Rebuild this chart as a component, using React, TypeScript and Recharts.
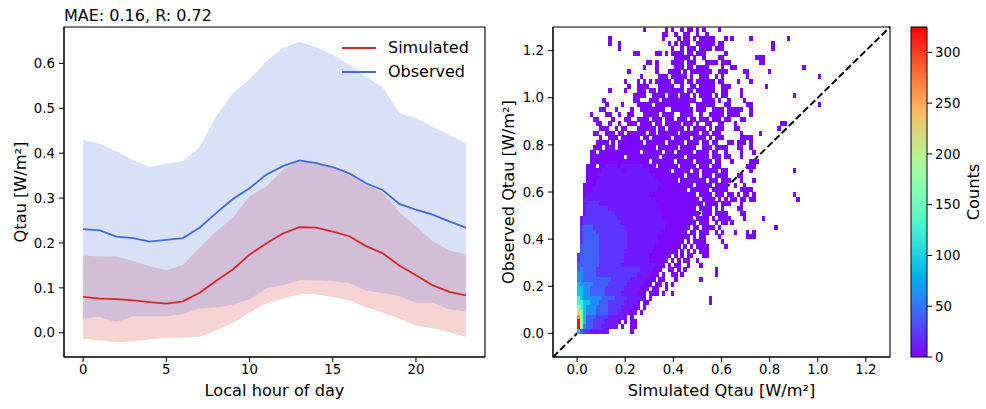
import React from 'react'
import {
  ComposedChart, ScatterChart, Scatter, Area, Line, XAxis, YAxis,
  ReferenceArea, ReferenceLine, Legend,
} from 'recharts'

const FONT = '"DejaVu Sans", Verdana, sans-serif'
const RED = '#d62728'
const BLUE = '#4169e1'

// ---- left panel: diurnal profile ----
const HOURS = [0, 1, 2, 3, 4, 5, 6, 7, 8, 9, 10, 11, 12, 13, 14, 15, 16, 17, 18, 19, 20, 21, 22, 23]
const SIM_MEAN = [0.080, 0.076, 0.075, 0.072, 0.068, 0.065, 0.070, 0.089, 0.116, 0.141, 0.174, 0.199, 0.221, 0.235, 0.234, 0.225, 0.215, 0.193, 0.177, 0.150, 0.128, 0.106, 0.091, 0.083]
const SIM_LO = [-0.013, -0.017, -0.021, -0.019, -0.015, -0.011, -0.011, -0.009, 0.005, 0.022, 0.045, 0.065, 0.076, 0.086, 0.086, 0.079, 0.072, 0.057, 0.045, 0.032, 0.016, 0.010, 0.001, -0.009]
const SIM_HI = [0.172, 0.170, 0.170, 0.160, 0.148, 0.139, 0.151, 0.189, 0.226, 0.256, 0.304, 0.326, 0.362, 0.384, 0.381, 0.367, 0.351, 0.330, 0.312, 0.269, 0.237, 0.204, 0.184, 0.174]
const OBS_MEAN = [0.231, 0.228, 0.214, 0.211, 0.203, 0.207, 0.211, 0.234, 0.267, 0.298, 0.322, 0.352, 0.371, 0.384, 0.378, 0.369, 0.355, 0.333, 0.318, 0.287, 0.274, 0.263, 0.248, 0.234]
const OBS_LO = [0.032, 0.035, 0.024, 0.037, 0.037, 0.037, 0.041, 0.054, 0.056, 0.063, 0.074, 0.099, 0.105, 0.117, 0.117, 0.115, 0.111, 0.094, 0.088, 0.082, 0.067, 0.067, 0.052, 0.048]
const OBS_HI = [0.430, 0.421, 0.404, 0.384, 0.369, 0.377, 0.382, 0.413, 0.482, 0.534, 0.564, 0.604, 0.634, 0.648, 0.636, 0.619, 0.597, 0.570, 0.547, 0.489, 0.478, 0.458, 0.441, 0.421]
const HOUR_TICKS = [0, 5, 10, 15, 20]
const Q_TICKS = [0, 0.1, 0.2, 0.3, 0.4, 0.5, 0.6]
const LEGEND_ITEMS = [
  { name: 'Simulated', color: RED },
  { name: 'Observed', color: BLUE },
]
const TITLE = 'MAE: 0.16, R: 0.72'

// ---- right panel: 2d histogram (bins of 0.013 x 0.02) ----
// one string per row of bins, top row (y≈1.28) first, bottom row (y≈0) last
// tokens: "col" or "colA-colB", optional ":level"
const BIN_X = 0.013
const BIN_Y = 0.02
const LEVEL_COUNTS: Record<string, number> = {
  '1': 3, '2': 10, '3': 22, '4': 40, '5': 60, '6': 90, '7': 130, '8': 180, '9': 220, 'A': 265, 'B': 320,
}
const HIST_ROWS = [
  '21 28 30 33 35-36 38 40 45',
  '27-28 31 34-35 38 41',
  '10 27 32 34-35 37 39-43 47 49 55 67',
  '10 13 29 31 33-35 38-43 45-46 62',
  '13 30 33 35-37 39-42 44-46 62',
  '18-19 25-26 28 30-33 35-36 38-40 47',
  '31-35 37 40 45-46 57-59',
  '22-23 25 30-33 35-37 41-44 46-48 58-59',
  '21 25 31-33 35-36 38-41 46 49-50 72',
  '16 25 29-32 34 36-42 45-47 53-54 61',
  '20 26-28 30-34 36 39-41 44 46 54 77',
  '15 19 21 23 25-29 31-33 35-36 38-43 45-46 51 55',
  '16 19-22 26-30 33 36-37 39-43 46-48 60',
  '10 15 19-21 23-24 26-33 35-36 38-43 46-47 52',
  '18-21 24-27 29-31 33-35 37 39-42 44 46-47 52 69',
  '8 18-19 23-25 27-37 40-43 45 48 53',
  '9 14 19-23 25-35 38-43 47-48 54-55 77',
  '7-8 12 17 20-27 30-36 38-40 43-46 48-52 55',
  '4 9-10 13 16-17 21-25 27-30 33-36 39 42-46 48-51 55',
  '5-6 11 15-16 19-22 24-26 28-30 32-34 36-37 39-41 43-45 47-48 52-53',
  '6-7 10 13 16-18 20-23 25-26 28-32 34-36 38 41-42 45-46 50 65-66',
  '7-9 12 14-15 19-24 26-27 29-33 35 37-40 42 44-46 50-51 64',
  '5-6 9-11 13-14 16-21 23-24 26-31 33-38 40-41 43-45 52 58',
  '7 10-12 14-19 21-22 24-29 31-35 37-40 42 44-46 52-55',
  '6-9 11 13-20 22-27 29-33 35-38 40-41 43-44 48-49 51-53 55',
  '5-7 9-11 13-24 26-31 33-37 40-42 44-47 51-52 55',
  '4-5 7-19 21-26 28-30 32-36 38-41 43-44 47 52 56',
  '4-14 16-25 27-33 35-41 43-45 47-48 52',
  '4-22 24-30 32-36 38-42 44-45 49 55-57',
  '3-5 7-8 9-12:2 13 14-20:2 21-24 26-31 33-37 39-41 43-45 54-56',
  '3-7 8-13:2 14-15 16-22:2 23-29 31-35 37-38 40-44 46-47 55 69',
  '3-6 7-24:2 25-33 35-38 40-42 44-47 51-52',
  '3-5 6-25:2 26-31 33-40 42-44 46-48 52 56',
  '2-5 6-26:2 27-36 38-42 44-47 50 53',
  '2-4 5-25:2 26-34 36-41 43-47 52-55',
  '2 3-22:2 23-37 39-42 44-46 48-49 51 53-54 56 69',
  '2:2 3-24:2 25-38 40-43 45 47 49-50 52-53 55-56 70',
  '2:2 3-6:3 7-25:2 26-39 41-44 46-48 52',
  '2:2 3-9:3 10-25:2 26-37 39-42 44 46 51-52',
  '2:2 3-11:3 12-26:2 27-38 40-42 44-47 52-53',
  '1:2 2-12:3 13-26:2 27-36 38-41 43 45-48 53 59',
  '1:2 2-13:3 14-27:2 28-37 39-41 44 46-47 49',
  '1:3 2-4:4 5-14:3 15-27:2 28-35 37-38 40-43 45 63',
  '1:3 2-5:4 6-15:3 16-26:2 27-34 36-37 39-41 44 46 50 54 56',
  '1:3 2-6:4 7-15:3 16-25:2 26-35 37 39-40 45 54-56',
  '1:3 2-6:4 7-15:3 16-25:2 26-33 35 37-40 46',
  '1:4 2-6:4 7-15:3 16-24:2 25-32 34 36 38-41 47',
  '1:4 2-6:4 7-14:3 15-23:2 24-31 33 35 37 39-41',
  '0:3 1:4 2-6:4 7-14:3 15-22:2 23-29 31 33 35-36 40-41',
  '0:3 1:4 2-6:4 7-14:3 15-22:2 23-28 30 32 34-35 38',
  '0:4 1:4 2-6:4 7-13:3 14-24:2 25-27 29 31-32 35 39',
  '0:4 1:5 2-5:4 6-19:3 20-23:2 24-26 29-30 32 34 44',
  '0:5 1:5 2-5:4 6-18:3 19-22:2 23-25 27 30-31 33 44',
  '0:5 1:5 2-10:4 11-16:3 17-21:2 22-24 26-27 31 39',
  '0:6 1:5 2-4:5 5-9:4 10-15:3 16-20:2 21-23 25-26 28 30',
  '0:6 1:6 2-3:5 4-8:4 9-14:3 15-19:2 20-22 24-25 28',
  '0:6 1:6 2-3:5 4-8:4 9-13:3 14-18:2 19-21 23-25 27 30',
  '0:7 1:6 2-7:5 8-11:4 12-15:3 16-20:2 21 23 42',
  '0:7 1:7 2-3:6 4-6:5 7-9:4 10-14:3 15-18:2 19 21-22 42',
  '0:8 1:7 2:6 3-5:5 6-9:4 10-13:3 14-17:2 18-19 21',
  '0:9 1:8 2:6 3-5:5 6-9:4 10-12:3 13-16:2 17-18 20',
  '0:A 1:8 2:6 3-5:4 6-9:3 10-14:2 15 17',
  '0:B 1:8 2:6 3-4:4 5-8:3 9-12:2 13 15 17-18',
  '0:B 1:8 2:5 3-4:4 5-7:3 8-12:2 14 17-18',
  '0:6 1:4 2-3:3 4-9:2 17',
]
const SC_TICKS = [0, 0.2, 0.4, 0.6, 0.8, 1.0, 1.2]
const SC_DOMAIN: [number, number] = [-0.1, 1.3]
const CMAX = 325
const CBAR_TICKS = [0, 50, 100, 150, 200, 250, 300]

// layout of the scatter plot area
const SC_W = 400
const SC_H = 409
const SC_MARGIN = { top: 27, right: 10, bottom: 0, left: 0 }
const SC_YAXIS_W = 53
const SC_XAXIS_H = 52
const SC_PLOT_W = SC_W - SC_MARGIN.right - SC_MARGIN.left - SC_YAXIS_W
const SC_PLOT_H = SC_H - SC_MARGIN.top - SC_MARGIN.bottom - SC_XAXIS_H
const CELL_W = BIN_X * SC_PLOT_W / (SC_DOMAIN[1] - SC_DOMAIN[0])
const CELL_H = BIN_Y * SC_PLOT_H / (SC_DOMAIN[1] - SC_DOMAIN[0])

const rainbow = (t: number) => {
  const v = Math.max(0, Math.min(1, t))
  const r = Math.min(1, Math.abs(2 * v - 0.5))
  const g = Math.sin(Math.PI * v)
  const b = Math.cos((Math.PI * v) / 2)
  const h = (x: number) => Math.round(Math.max(0, x) * 255)
  return `rgb(${h(r)},${h(g)},${h(b)})`
}

const profileData = HOURS.map((hour, i) => ({
  hour,
  sim: SIM_MEAN[i],
  obs: OBS_MEAN[i],
  simBand: [SIM_LO[i], SIM_HI[i]],
  obsBand: [OBS_LO[i], OBS_HI[i]],
}))

const histCells: { x: number; y: number; count: number }[] = []
HIST_ROWS.forEach((row, i) => {
  const r = HIST_ROWS.length - 1 - i
  row.split(' ').forEach(tok => {
    const [span, lvl = '1'] = tok.split(':')
    const parts = span.split('-').map(Number)
    const a = parts[0]
    const b = parts.length > 1 ? parts[1] : parts[0]
    for (let c = a; c <= b; c++) {
      histCells.push({ x: (c + 0.5) * BIN_X, y: (r + 0.5) * BIN_Y, count: LEVEL_COUNTS[lvl] })
    }
  })
})

const tickStyle = { fill: '#000', fontSize: 13.3, fontFamily: FONT }
const labelStyle = { fill: '#000', fontSize: 16.2, fontFamily: FONT }

const cellShape = (props: any) => {
  const { cx, cy, payload } = props
  return (
    <rect
      x={cx - CELL_W / 2}
      y={cy - CELL_H / 2}
      width={CELL_W + 0.3}
      height={CELL_H + 0.3}
      fill={rainbow(payload.count / CMAX)}
      shapeRendering="crispEdges"
    />
  )
}

const renderLegend = () => (
  <div style={{ fontFamily: FONT, fontSize: 16, color: '#000', lineHeight: '24px' }}>
    {LEGEND_ITEMS.map(item => (
      <div key={item.name} style={{ display: 'flex', alignItems: 'center', whiteSpace: 'nowrap' }}>
        <svg width={34} height={24}>
          <line x1={0} x2={34} y1={12} y2={12} stroke={item.color} strokeWidth={2} />
        </svg>
        <span style={{ marginLeft: 12 }}>{item.name}</span>
      </div>
    ))}
  </div>
)

function ProfilePanel() {
  return (
    <ComposedChart width={500} height={409} data={profileData} margin={{ top: 27, right: 15, bottom: 0, left: 0 }}>
      <XAxis
        dataKey="hour" type="number" domain={[-1.15, 24.15]} ticks={HOUR_TICKS} allowDataOverflow
        height={52} tickSize={5} tickMargin={3} stroke="#000" tick={tickStyle}
        label={{ value: 'Local hour of day', position: 'insideBottom', offset: 13, ...labelStyle }}
      />
      <YAxis
        type="number" domain={[-0.054, 0.681]} ticks={Q_TICKS} allowDataOverflow
        tickFormatter={(v: number) => v.toFixed(1)}
        width={64} tickSize={5} tickMargin={4} stroke="#000" tick={tickStyle}
        label={{ value: 'Qtau [W/m²]', angle: -90, position: 'insideLeft', offset: 20, style: { textAnchor: 'middle' }, ...labelStyle }}
      />
      <Area type="linear" dataKey="simBand" fill={RED} fillOpacity={0.2} stroke="none" dot={false} activeDot={false} legendType="none" isAnimationActive={false} />
      <Area type="linear" dataKey="obsBand" fill={BLUE} fillOpacity={0.2} stroke="none" dot={false} activeDot={false} legendType="none" isAnimationActive={false} />
      <Line type="linear" dataKey="sim" stroke={RED} strokeWidth={1.8} dot={false} activeDot={false} isAnimationActive={false} />
      <Line type="linear" dataKey="obs" stroke={BLUE} strokeWidth={1.8} dot={false} activeDot={false} isAnimationActive={false} />
      <ReferenceArea x1={-1.15} x2={24.15} y1={-0.054} y2={0.681} fill="none" stroke="#000" strokeWidth={1.1} ifOverflow="visible" />
      <Legend
        layout="vertical" align="center" verticalAlign="middle"
        content={renderLegend}
        wrapperStyle={{ top: 36, left: 342, width: 'auto' }}
      />
      <text x={64} y={20.5} fontSize={16} fontFamily={FONT} fill="#000">{TITLE}</text>
    </ComposedChart>
  )
}

function HistPanel() {
  return (
    <ScatterChart width={SC_W} height={SC_H} margin={SC_MARGIN}>
      <XAxis
        dataKey="x" type="number" domain={SC_DOMAIN} ticks={SC_TICKS} allowDataOverflow
        tickFormatter={(v: number) => v.toFixed(1)}
        height={SC_XAXIS_H} tickSize={5} tickMargin={3} stroke="#000" tick={tickStyle}
        label={{ value: 'Simulated Qtau [W/m²]', position: 'insideBottom', offset: 13, ...labelStyle }}
      />
      <YAxis
        dataKey="y" type="number" domain={SC_DOMAIN} ticks={SC_TICKS} allowDataOverflow
        tickFormatter={(v: number) => v.toFixed(1)}
        width={SC_YAXIS_W} tickSize={5} tickMargin={4} stroke="#000" tick={tickStyle}
        label={{ value: 'Observed Qtau [W/m²]', angle: -90, position: 'insideLeft', offset: 8.5, style: { textAnchor: 'middle' }, ...labelStyle }}
      />
      <Scatter data={histCells} shape={cellShape} isAnimationActive={false} />
      <ReferenceLine
        segment={[{ x: SC_DOMAIN[0], y: SC_DOMAIN[0] }, { x: SC_DOMAIN[1], y: SC_DOMAIN[1] }]}
        stroke="#000" strokeWidth={2} strokeDasharray="7 3" ifOverflow="visible"
      />
      <ReferenceArea x1={SC_DOMAIN[0]} x2={SC_DOMAIN[1]} y1={SC_DOMAIN[0]} y2={SC_DOMAIN[1]} fill="none" stroke="#000" strokeWidth={1.1} ifOverflow="visible" />
    </ScatterChart>
  )
}

function ColorBar() {
  const stops = Array.from({ length: 21 }, (_, i) => i / 20)
  return (
    <ComposedChart width={81} height={409} data={[{ x: 0 }, { x: 1 }]} margin={{ top: 27, right: 0, bottom: 52, left: 6 }}>
      <defs>
        <linearGradient id="cbarGrad" x1="0" y1="1" x2="0" y2="0">
          {stops.map(t => <stop key={t} offset={t} stopColor={rainbow(t)} />)}
        </linearGradient>
      </defs>
      <XAxis dataKey="x" type="number" domain={[0, 1]} hide />
      <YAxis
        orientation="right" type="number" domain={[0, CMAX]} ticks={CBAR_TICKS} allowDataOverflow
        width={59} tickSize={5} tickMargin={3} axisLine={false} stroke="#000" tick={tickStyle}
        label={{ value: 'Counts', angle: -90, position: 'insideRight', offset: 13, style: { textAnchor: 'middle' }, ...labelStyle }}
      />
      <ReferenceArea x1={0} x2={1} y1={0} y2={CMAX} fill="url(#cbarGrad)" fillOpacity={1} stroke="#000" strokeWidth={1} ifOverflow="visible" />
    </ComposedChart>
  )
}

export default function App() {
  return (
    <div style={{ position: 'absolute', left: 0, top: 0, width: 986, height: 409, background: '#fff', fontFamily: FONT }}>
      <div style={{ position: 'absolute', left: 0, top: 0 }}><ProfilePanel /></div>
      <div style={{ position: 'absolute', left: 500, top: 0 }}><HistPanel /></div>
      <div style={{ position: 'absolute', left: 905, top: 0 }}><ColorBar /></div>
    </div>
  )
}
